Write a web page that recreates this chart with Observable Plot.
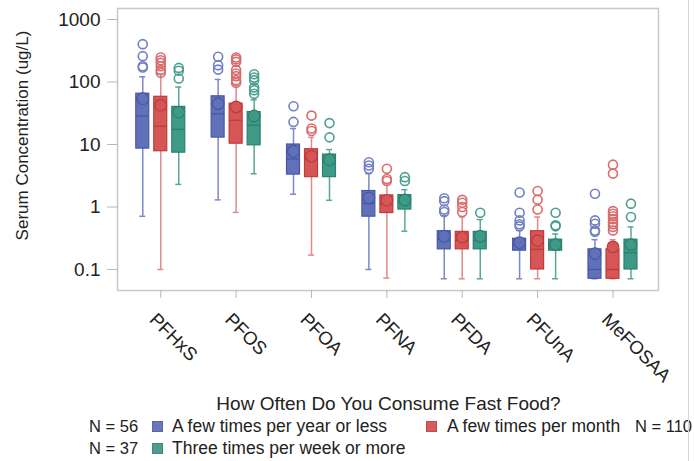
<!DOCTYPE html>
<html><head><meta charset="utf-8">
<script src="https://cdn.jsdelivr.net/npm/d3@7"></script>
<script src="https://cdn.jsdelivr.net/npm/@observablehq/plot@0.6"></script>
<style>
body{margin:0;background:#fff;font-family:"Liberation Sans",Arial,sans-serif;}
#wrap{position:relative;width:694px;height:461px;overflow:hidden;background:#fff;}
#chart{position:absolute;left:0;top:0;}
.lg{position:absolute;white-space:nowrap;line-height:1;color:#222;}
.sw{position:absolute;width:11px;height:11px;box-sizing:border-box;}
#edge{position:absolute;left:688px;top:0;width:1px;height:461px;background:#d6d6d6;}
</style></head><body>
<div id="wrap"><div id="chart"></div><div id="legend"></div><div id="edge"></div></div>
<script>
const categories = ["PFHxS","PFOS","PFOA","PFNA","PFDA","PFUnA","MeFOSAA"];
const groups = ["A few times per year or less","A few times per month","Three times per week or more"];
const groupN = [56, 110, 37];
const legendTitle = "How Often Do You Consume Fast Food?";
const yLabel = "Serum Concentration (ug/L)";
const yTicks = [0.1, 1, 10, 100, 1000];
const yTickLabels = ["0.1","1","10","100","1000"];

// A few times per year or less
const yearLo   = [0.71, 1.3, 1.6, 0.1, 0.071, 0.071, 0.071];
const yearQ1   = [8.6, 12.9, 3.3, 0.70, 0.21, 0.20, 0.071];
const yearMed  = [28.6, 31, 5.9, 1.13, 0.30, 0.25, 0.10];
const yearMean = [54, 45, 7.8, 1.40, 0.34, 0.27, 0.18];
const yearQ3   = [65, 59, 10, 1.8, 0.41, 0.31, 0.21];
const yearHi   = [121, 110, 18, 3.4, 0.73, 0.42, 0.30];
const yearOut  = [[403,259,179,171],[253,186,158],[41,23],[5.2,4.6,4.1],[1.38,1.24,0.91,0.83],[1.71,0.81,0.61,0.53,0.49],[1.63,0.61,0.54,0.42,0.40]];

// A few times per month
const monthLo   = [0.1, 0.82, 0.17, 0.073, 0.071, 0.071, 0.071];
const monthQ1   = [7.8, 10.3, 3.0, 0.80, 0.21, 0.10, 0.071];
const monthMed  = [19.6, 24.4, 5.9, 1.1, 0.29, 0.21, 0.10];
const monthMean = [42.5, 40, 6.5, 1.28, 0.33, 0.29, 0.23];
const monthQ3   = [58, 45, 8.4, 1.53, 0.40, 0.41, 0.21];
const monthHi   = [133, 89, 13, 2.37, 0.69, 0.69, 0.30];
const monthOut  = [[247,223,202,179,155,140],[247,230,210,155,137,124,107,97],[29,18,16.4],[4.1,2.8,2.6],[1.30,1.17,1.0,0.83],[1.80,1.31,0.91],[4.76,3.42,0.86,0.78,0.71,0.64,0.57,0.53,0.48,0.42]];

// Three times per week or more
const weekLo   = [2.3, 3.4, 1.28, 0.41, 0.071, 0.071, 0.071];
const weekQ1   = [7.4, 9.7, 3.0, 0.91, 0.21, 0.20, 0.10];
const weekMed  = [17.5, 20.3, 5.4, 1.2, 0.29, 0.24, 0.185];
const weekMean = [33, 28.6, 5.7, 1.3, 0.34, 0.25, 0.25];
const weekQ3   = [40, 33, 6.9, 1.55, 0.40, 0.30, 0.30];
const weekHi   = [83, 52, 8.3, 1.89, 0.63, 0.37, 0.48];
const weekOut  = [[168,151,114],[133,118,107,82,74,65],[22,13],[3.0,2.6],[0.81],[0.81,0.51,0.49],[1.13,0.69]];

const stats = [
  {lo: yearLo, q1: yearQ1, med: yearMed, mean: yearMean, q3: yearQ3, hi: yearHi, out: yearOut},
  {lo: monthLo, q1: monthQ1, med: monthMed, mean: monthMean, q3: monthQ3, hi: monthHi, out: monthOut},
  {lo: weekLo, q1: weekQ1, med: weekMed, mean: weekMean, q3: weekQ3, hi: weekHi, out: weekOut}
];

const fills    = ["#6171b9", "#d65656", "#3f9987"];
const edges    = ["#4757a7", "#bf3b3b", "#2b8070"];
const whiskers = ["#7d88c6", "#e08a8a", "#5aa797"];
const outCols  = ["#7280c2", "#d86c6c", "#4d9f8f"];
const swatches = ["#6a77bb", "#d85a5a", "#4f9d8f"];
const shiftPx  = [-18, 0, 18];
const hw = 0.086, capw = 0.04;

const marks = [Plot.frame({stroke: "#c8c8c8", strokeWidth: 1.5})];
stats.forEach((s, g) => {
  const rows = categories.map((c, i) => ({cat: c, idx: i, lo: s.lo[i], q1: s.q1[i], med: s.med[i], mean: s.mean[i], q3: s.q3[i], hi: s.hi[i]}));
  const outs = categories.flatMap((c, i) => s.out[i].map(v => ({cat: c, idx: i, v})));
  const dx = shiftPx[g];
  marks.push(
    Plot.ruleX(rows, {x: "idx", y1: "lo", y2: "hi", dx, stroke: whiskers[g], strokeWidth: 1.5}),
    Plot.ruleY(rows, {y: "lo", x1: d => d.idx - capw, x2: d => d.idx + capw, dx, stroke: whiskers[g], strokeWidth: 1.5}),
    Plot.ruleY(rows, {y: "hi", x1: d => d.idx - capw, x2: d => d.idx + capw, dx, stroke: whiskers[g], strokeWidth: 1.5}),
    Plot.dot(outs, {x: "idx", y: "v", dx, r: 4.5, fill: "none", stroke: outCols[g], strokeWidth: 1.6}),
    Plot.rect(rows, {x1: d => d.idx - hw, x2: d => d.idx + hw, y1: "q1", y2: "q3", dx, fill: fills[g], stroke: edges[g], strokeWidth: 1.2}),
    Plot.ruleY(rows, {y: "med", x1: d => d.idx - hw, x2: d => d.idx + hw, dx, stroke: edges[g], strokeWidth: 1.3}),
    Plot.dot(rows, {x: "idx", y: "mean", dx, r: 5.8, fill: fills[g], stroke: edges[g], strokeWidth: 1.2})
  );
});
marks.push(
  Plot.axisY({ticks: yTicks, tickFormat: d => yTickLabels[yTicks.indexOf(d)], tickSize: 10, tickPadding: 7, stroke: "#b8b8b8", fill: "#222", fontSize: 19, label: null}),
  Plot.axisX({ticks: d3.range(categories.length), tickFormat: () => "", tickSize: 8, stroke: "#b8b8b8", label: null}),
  Plot.axisX({ticks: d3.range(categories.length), tickFormat: i => categories[i], tickRotate: 45, tickSize: 0, tickPadding: 20, dx: -8, dy: 6, fill: "#222", fontSize: 18.5, label: null}),
  Plot.text([yLabel], {frameAnchor: "left", rotate: -90, textAnchor: "middle", dx: -95, dy: -14, fontSize: 17, fill: "#222"})
);

const chart = Plot.plot({
  width: 694, height: 390,
  marginLeft: 117, marginRight: 36, marginTop: 8, marginBottom: 100,
  style: {fontFamily: "'Liberation Sans', Arial, sans-serif", background: "transparent", color: "#222"},
  x: {type: "linear", domain: [-0.574, 6.604]},
  y: {type: "log", domain: [0.0461, 1500]},
  marks
});
document.getElementById("chart").appendChild(chart);

// Legend (HTML, below the SVG)
const lg = document.getElementById("legend");
function addText(txt, left, top, size, extra) {
  const el = document.createElement("div");
  el.className = "lg"; el.textContent = txt;
  el.style.left = left + "px"; el.style.top = top + "px"; el.style.fontSize = size + "px";
  if (extra) Object.assign(el.style, extra);
  lg.appendChild(el); return el;
}
function addSwatch(col, left, top) {
  const el = document.createElement("div");
  el.className = "sw"; el.style.left = left + "px"; el.style.top = top + "px";
  el.style.background = col; el.style.border = "1px solid " + d3.color(col).darker(0.4);
  lg.appendChild(el);
}
addText(legendTitle, 0, 394, 19, {width: "777px", textAlign: "center"});
// row 1
addText("N = " + groupN[0], 89, 418, 16.5);
addSwatch(swatches[0], 152, 421);
addText(groups[0], 172, 418, 17.5);
addSwatch(swatches[1], 426, 421);
addText(groups[1], 447, 418, 17.5);
addText("N = " + groupN[1], 635, 418, 16.5);
// row 2
addText("N = " + groupN[2], 89, 440, 16.5);
addSwatch(swatches[2], 152, 443);
addText(groups[2], 172, 440, 17.5);
</script>
</body></html>
